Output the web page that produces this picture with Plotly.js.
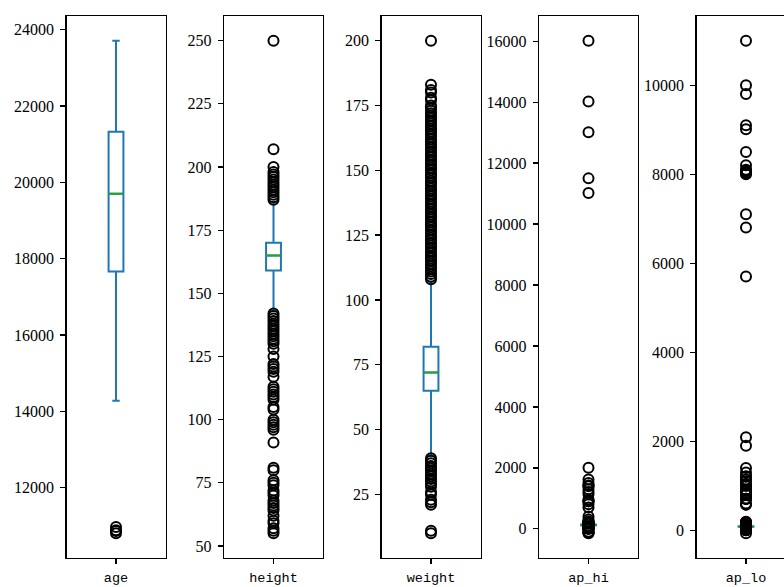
<!DOCTYPE html>
<html><head><meta charset="utf-8">
<script src="https://cdn.plot.ly/plotly-3.0.1.min.js"></script>
<style>html,body{margin:0;padding:0;overflow:hidden;background:#fff}</style>
</head><body><div id="chart"></div>
<script>
// ---- data ----
const names = ['age', 'height', 'weight', 'ap_hi', 'ap_lo'];
const q1 = [17664, 159, 65, 120, 80];
const medians = [19703, 165, 72, 120, 80];
const q3 = [21327, 170, 82, 140, 90];
const lowerWhisker = [14275, 143, 40, 90, 65];
const upperWhisker = [23713, 186, 107, 170, 105];

const ageOutliers = [10798, 10859, 10878, 10964];
const heightOutliers = [55, 56, 57, 59, 60, 62, 64, 65, 66, 67, 68, 70, 71, 72, 74, 75, 76, 80, 81, 91,
  96, 97, 98, 99, 100, 104, 105, 108, 109, 110, 111, 112, 113, 117, 119, 120, 121, 122, 125, 128,
  130, 131, 132, 133, 134, 135, 136, 137, 138, 139, 140, 141, 142,
  187, 188, 189, 190, 191, 192, 193, 194, 195, 196, 197, 198, 200, 207, 250];
const weightOutliers = [10, 11, 21, 22, 23, 25, 26, 28, 29, 30, 31, 32, 33, 34, 35, 36, 37, 38, 39,
  108, 109, 110, 111, 112, 113, 114, 115, 116, 117, 118, 119, 120, 121, 122, 123, 124, 125, 126, 127,
  128, 129, 130, 131, 132, 133, 134, 135, 136, 137, 138, 139, 140, 141, 142, 143, 144, 145, 146, 147,
  148, 149, 150, 151, 152, 153, 154, 155, 156, 157, 158, 159, 160, 161, 162, 163, 164, 165, 166, 167,
  168, 169, 170, 171, 172, 173, 174, 175, 177, 178, 180, 181, 183, 200];
const apHiOutliers = [-150, -140, -120, -115, -100, 1, 7, 10, 11, 12, 13, 14, 15, 16, 17, 20, 24, 60, 70,
  80, 85, 175, 177, 180, 185, 190, 195, 200, 210, 215, 220, 240, 309, 401, 701, 806, 902, 906, 907, 960,
  1130, 1205, 1300, 1400, 1409, 1420, 1500, 1620, 2000, 11020, 11500, 13010, 14020, 16020];
const apLoOutliers = [-70, 0, 1, 6, 8, 10, 15, 20, 30, 40, 45, 49, 50, 52, 53, 54, 55, 56, 57, 59, 60,
  106, 107, 108, 109, 110, 112, 113, 115, 118, 119, 120, 125, 130, 140, 150, 160, 170, 180, 182, 190,
  570, 602, 700, 708, 710, 800, 801, 809, 850, 880, 900, 902, 910, 1000, 1001, 1011, 1022, 1044, 1100,
  1139, 1200, 1211, 1300, 1400, 1900, 2088, 5700, 6800, 7100, 8000, 8022, 8044, 8077, 8079, 8100, 8200,
  8500, 9011, 9100, 9800, 10000, 11000];
const outliers = [ageOutliers, heightOutliers, weightOutliers, apHiOutliers, apLoOutliers];

// ---- axis settings ----
const yRanges = [[10152, 24359], [45.25, 259.75], [0.5, 209.5], [-958.5, 16828.5], [-623.5, 11553.5]];
const yDticks = [2000, 25, 25, 2000, 2000];

const FIG_W = 800, FIG_H = 587;
const panelLeft = [66.5, 224, 381.5, 539, 696.5];
const panelWidth = 99;
const BOX_W = 0.15;
const BLUE = '#1f77b4', GREEN = '#2ca02c';

const traces = [];
const layout = {
  width: FIG_W, height: FIG_H,
  margin: {l: 0, r: 0, t: 16, b: 29},
  paper_bgcolor: '#fff', plot_bgcolor: '#fff',
  showlegend: false, boxmode: 'overlay'
};
const medianTraces = [];
names.forEach((name, i) => {
  const ax = i === 0 ? '' : String(i + 1);
  const common = {xaxis: 'x' + ax, yaxis: 'y' + ax, hoverinfo: 'skip', showlegend: false};
  traces.push(Object.assign({
    type: 'box', x: [0], q1: [q1[i]], median: [medians[i]], q3: [q3[i]],
    lowerfence: [lowerWhisker[i]], upperfence: [upperWhisker[i]],
    width: BOX_W, whiskerwidth: 0.5, boxpoints: false,
    fillcolor: 'rgba(0,0,0,0)', line: {color: BLUE, width: 2}
  }, common));
  traces.push(Object.assign({
    type: 'scatter', mode: 'markers', x: outliers[i].map(() => 0), y: outliers[i],
    marker: {symbol: 'circle-open', size: 10, color: '#000', line: {width: 2, color: '#000'}}
  }, common));
  medianTraces.push(Object.assign({
    type: 'box', x: [0], q1: [medians[i]], median: [medians[i]], q3: [medians[i]],
    lowerfence: [medians[i]], upperfence: [medians[i]],
    width: BOX_W, whiskerwidth: 0, boxpoints: false,
    fillcolor: 'rgba(0,0,0,0)', line: {color: GREEN, width: 2}
  }, common));

  layout['xaxis' + ax] = {
    domain: [panelLeft[i] / FIG_W, (panelLeft[i] + panelWidth) / FIG_W],
    anchor: 'y' + ax, range: [-0.5, 0.5], tickvals: [0], ticktext: [name],
    ticks: 'outside', ticklen: 5, tickwidth: 1.3, tickcolor: '#000',
    showline: true, mirror: true, linecolor: '#000', linewidth: 1.4,
    showgrid: false, zeroline: false, ticklabelstandoff: 1,
    tickfont: {family: 'Liberation Mono, monospace', size: 13.5, color: '#000'}
  };
  layout['yaxis' + ax] = {
    domain: [0, 1], anchor: 'x' + ax, range: yRanges[i],
    tick0: 0, dtick: yDticks[i], tickformat: 'd',
    ticks: 'outside', ticklen: 5, tickwidth: 1.3, tickcolor: '#000',
    showline: true, mirror: true, linecolor: '#000', linewidth: 1.4,
    showgrid: false, zeroline: false, ticklabelstandoff: 3,
    tickfont: {family: 'Liberation Serif, serif', size: 16, color: '#000'}
  };
});

Plotly.newPlot('chart', traces.concat(medianTraces), layout, {displayModeBar: false, staticPlot: true});
</script>
</body></html>
